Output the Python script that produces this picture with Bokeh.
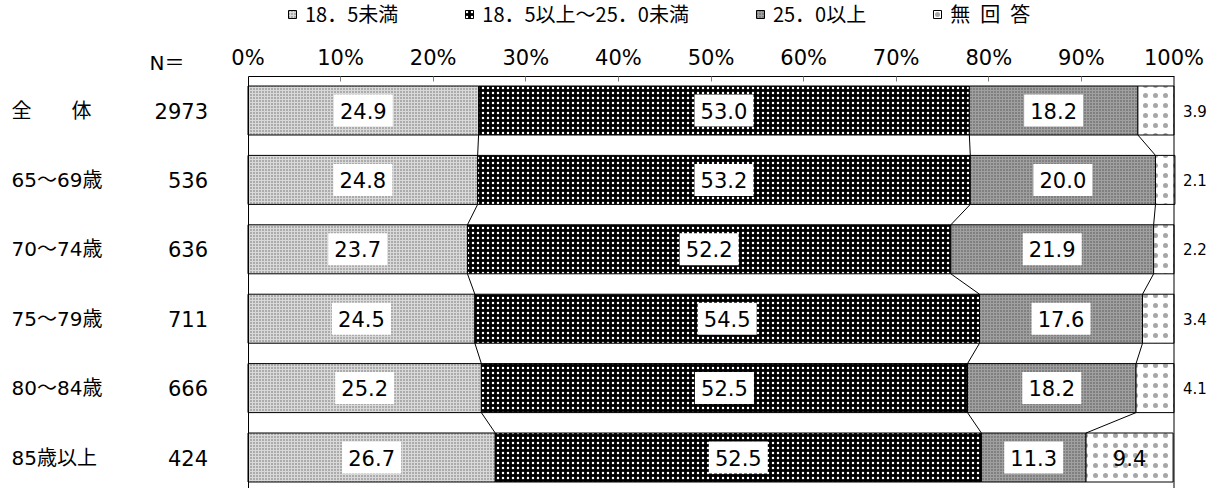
import numpy as np
from bokeh.plotting import figure
from bokeh.models import (ColumnDataSource, Legend, LegendItem, LinearAxis,
                          FixedTicker, Range1d)
from bokeh.embed import file_html
from bokeh.resources import INLINE
from bokeh.core.properties import value

# ---------------- data ----------------
categories = ["全　　体", "65～69歳", "70～74歳", "75～79歳", "80～84歳", "85歳以上"]
n_values = ["2973", "536", "636", "711", "666", "424"]
series_names = ["18．5未満", "18．5以上～25．0未満", "25．0以上", "無\u2002回\u2002答"]
under_18_5 = [24.9, 24.8, 23.7, 24.5, 25.2, 26.7]
normal_range = [53.0, 53.2, 52.2, 54.5, 52.5, 52.5]
over_25 = [18.2, 20.0, 21.9, 17.6, 18.2, 11.3]
no_answer = [3.9, 2.1, 2.2, 3.4, 4.1, 9.4]
x_ticks = [0, 10, 20, 30, 40, 50, 60, 70, 80, 90, 100]
x_tick_labels = ["0%", "10%", "20%", "30%", "40%", "50%", "60%", "70%", "80%", "90%", "100%"]

FONT = "'DejaVu Sans', 'Noto Sans CJK JP'"
LEG_FONT = "Noto Sans CJK JP"
BAR_H = 0.706
rows = np.arange(len(categories))

# layout constants (data units of a frame that fills the whole figure)
X_RANGE = (-26.728, 104.589)
Y_RANGE = (5.44657, -1.58501)
Y_TOP = -0.48991         # top axis line
Y_HEADER = -0.68444
X_CAT = -25.54
X_HEADER = -6.85

src = ColumnDataSource(dict(y=rows, s1=under_18_5, s2=normal_range, s3=over_25,
                            s4=no_answer))

p = figure(width=1216, height=488,
           x_range=Range1d(*X_RANGE), y_range=Range1d(*Y_RANGE),
           x_axis_location=None, y_axis_location=None,
           output_backend="svg", toolbar_location=None,
           min_border_left=0, min_border_right=0, min_border_bottom=0, min_border_top=0)
p.background_fill_color = "white"
p.border_fill_color = "white"
p.outline_line_color = None
p.xgrid.visible = False
p.ygrid.visible = False

# ---------------- bars ----------------
fills = ["#d9d9d9", "#000000", "#a0a0a0", "#ffffff"]
hatch_colors = ["#666666", "#ffffff", "#505050", "#000000"]
hatch_scales = [3, 5, 3, 10]
hatch_alphas = [1.0, 1.0, 1.0, 0.35]
renderers = p.hbar_stack(["s1", "s2", "s3", "s4"], y="y", height=BAR_H, source=src,
                         fill_color=fills, line_color="black", line_width=1,
                         hatch_pattern=[".", ".", ".", "."],
                         hatch_color=hatch_colors, hatch_scale=hatch_scales,
                         hatch_alpha=hatch_alphas)

# ---------------- connectors ----------------
s = np.array([under_18_5, normal_range, over_25, no_answer])
cum = np.cumsum(s, axis=0)
for k in range(3):
    c = cum[k]
    p.segment(x0=c[:-1], y0=rows[:-1] + BAR_H / 2, x1=c[1:], y1=rows[1:] - BAR_H / 2,
              line_color="black", line_width=1)

# right frame line at 100 %
p.segment(x0=[100], y0=[Y_TOP], x1=[100], y1=[Y_RANGE[0]], line_color="black", line_width=1)

# ---------------- value labels ----------------
mids = cum - s / 2
bx, by, bt = [], [], []
for k in range(3):
    for i in rows:
        bx.append(float(mids[k][i])); by.append(int(i)); bt.append(f"{s[k][i]:.1f}")
box_src = ColumnDataSource(dict(x=bx, y=by, t=bt))
p.rect(x="x", y="y", width=59, height=32, width_units="screen", height_units="screen",
       fill_color="white", line_color=None, source=box_src)
p.text(x="x", y="y", text="t", source=box_src, text_align="center",
       text_baseline="middle", text_font=value(FONT), text_font_size="21px",
       text_color="black")

in_x, in_y, in_t, out_x, out_y, out_t = [], [], [], [], [], []
for i in rows:
    v = no_answer[i]
    if v >= 5:
        in_x.append(float(mids[3][i])); in_y.append(int(i)); in_t.append(f"{v:.1f}")
    else:
        out_x.append(100.0); out_y.append(int(i)); out_t.append(f"{v:.1f}")
in_src = ColumnDataSource(dict(x=in_x, y=in_y, t=in_t))
p.text(x="x", y="y", text="t", source=in_src, text_align="center", text_baseline="middle",
       text_font=value(FONT), text_font_size="21px", text_color="black")
out_src = ColumnDataSource(dict(x=out_x, y=out_y, t=out_t))
p.text(x="x", y="y", text="t", source=out_src, x_offset=9, text_align="left",
       text_baseline="middle", text_font=value(FONT), text_font_size="15px",
       text_color="black")

# ---------------- left labels ----------------
cat_src = ColumnDataSource(dict(x=[X_CAT] * len(categories), y=[int(i) for i in rows], t=categories))
p.text(x="x", y="y", text="t", source=cat_src, text_align="left", text_baseline="middle",
       text_font=value(FONT), text_font_size="20px", text_color="black")
p.text(x=[X_HEADER], y=[Y_HEADER], text=["N＝"], text_align="right", text_baseline="middle",
       text_font=value(FONT), text_font_size="20px", text_color="black")

# ---------------- axes (fixed inside the frame) ----------------
xa = LinearAxis(fixed_location=Y_TOP, bounds=(0, 100), ticker=FixedTicker(ticks=x_ticks))
xa.major_label_overrides = {t: l for t, l in zip(x_ticks, x_tick_labels)}
xa.major_tick_in = 5
xa.major_tick_out = 0
xa.minor_tick_line_color = None
xa.major_label_standoff = 7
xa.axis_line_color = "black"
xa.major_tick_line_color = "#808080"
xa.major_label_text_font = FONT
xa.major_label_text_font_size = "21px"
xa.major_label_text_color = "black"
p.add_layout(xa, "above")

ya = LinearAxis(fixed_location=0, bounds=(Y_TOP, Y_RANGE[0]),
                ticker=FixedTicker(ticks=[int(i) for i in rows]))
ya.major_label_overrides = {int(i): n for i, n in zip(rows, n_values)}
ya.major_tick_in = 0
ya.major_tick_out = 0
ya.minor_tick_line_color = None
ya.major_label_standoff = 40
ya.axis_line_color = "black"
ya.major_label_text_font = FONT
ya.major_label_text_font_size = "21px"
ya.major_label_text_color = "black"
p.add_layout(ya, "left")

# ---------------- legend ----------------
legend = Legend(items=[LegendItem(label=nm, renderers=[r]) for nm, r in zip(series_names, renderers)],
                orientation="horizontal", location=(287, 460),
                glyph_width=10, glyph_height=10, label_standoff=8, spacing=66,
                padding=0, margin=0, border_line_color=None, background_fill_alpha=0,
                label_text_font=LEG_FONT, label_text_font_size="20px", label_text_color="black",
                label_height=14)
p.add_layout(legend)

open("out.html", "w").write(file_html(p, INLINE))
